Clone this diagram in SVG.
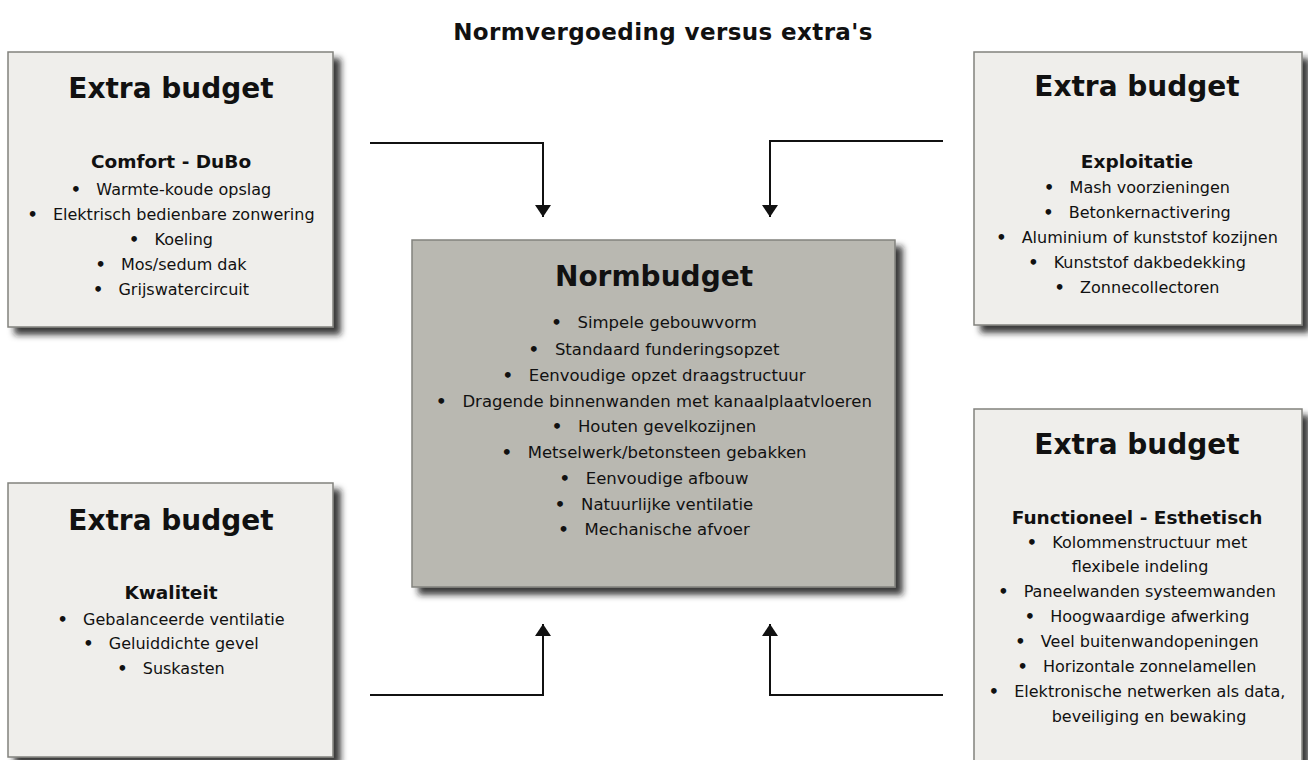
<svg xmlns="http://www.w3.org/2000/svg" width="1308" height="760" viewBox="0 0 1308 760">
<style>
  text { font-family: "DejaVu Sans", Verdana, sans-serif; fill: #111; text-anchor: middle; }
  .title { font-size: 23px; font-weight: bold; letter-spacing: 0.4px; }
  .head { font-size: 28px; font-weight: bold; }
  .sub { font-size: 18.5px; font-weight: bold; }
  .item { font-size: 16px; }
  .citem { font-size: 16.5px; }
  .b { font-weight: bold; }
  .side { fill: #EFEEEB; stroke: #82827e; stroke-width: 1.5; }
  .center { fill: #B9B8B1; stroke: #82827e; stroke-width: 1.5; }
  .conn { fill: none; stroke: #111; stroke-width: 2; }
</style>
<defs>
  <filter id="shadow" x="-10%" y="-10%" width="130%" height="130%">
    <feGaussianBlur in="SourceAlpha" stdDeviation="3"/>
    <feOffset dx="7" dy="7" result="b"/>
    <feFlood flood-color="#1a1a1a" flood-opacity="0.85"/>
    <feComposite in2="b" operator="in"/>
    <feMerge><feMergeNode/><feMergeNode in="SourceGraphic"/></feMerge>
  </filter>
  <marker id="arrow" viewBox="0 0 12 16" refX="12" refY="8" markerWidth="6" markerHeight="8" markerUnits="strokeWidth" orient="auto">
    <path d="M0,0 L12,8 L0,16 z" fill="#111"/>
  </marker>
</defs>
<rect width="1308" height="760" fill="#ffffff"/>
<text class="title" x="663" y="40">Normvergoeding versus extra's</text>

<g id="connectors">
  <path class="conn" d="M370,143 H543 V217" marker-end="url(#arrow)"/>
  <path class="conn" d="M943,141 H770 V217" marker-end="url(#arrow)"/>
  <path class="conn" d="M370,695 H543 V624" marker-end="url(#arrow)"/>
  <path class="conn" d="M943,695 H770 V624" marker-end="url(#arrow)"/>
</g>

<g id="extra-comfort">
  <rect class="side" x="8" y="52" width="325" height="275" filter="url(#shadow)"/>
  <text class="head" x="171" y="98">Extra budget</text>
  <text class="sub" x="171" y="168">Comfort - DuBo</text>
  <text class="item" x="171" y="195" xml:space="preserve"><tspan class="b">•</tspan>   Warmte-koude opslag</text>
  <text class="item" x="171" y="220" xml:space="preserve"><tspan class="b">•</tspan>   Elektrisch bedienbare zonwering</text>
  <text class="item" x="171" y="245" xml:space="preserve"><tspan class="b">•</tspan>   Koeling</text>
  <text class="item" x="171" y="270" xml:space="preserve"><tspan class="b">•</tspan>   Mos/sedum dak</text>
  <text class="item" x="171" y="295" xml:space="preserve"><tspan class="b">•</tspan>   Grijswatercircuit</text>
</g>

<g id="extra-exploitatie">
  <rect class="side" x="974" y="52" width="328" height="273" filter="url(#shadow)"/>
  <text class="head" x="1137" y="96">Extra budget</text>
  <text class="sub" x="1137" y="168">Exploitatie</text>
  <text class="item" x="1137" y="193" xml:space="preserve"><tspan class="b">•</tspan>   Mash voorzieningen</text>
  <text class="item" x="1137" y="218" xml:space="preserve"><tspan class="b">•</tspan>   Betonkernactivering</text>
  <text class="item" x="1137" y="243" xml:space="preserve"><tspan class="b">•</tspan>   Aluminium of kunststof kozijnen</text>
  <text class="item" x="1137" y="268" xml:space="preserve"><tspan class="b">•</tspan>   Kunststof dakbedekking</text>
  <text class="item" x="1137" y="293" xml:space="preserve"><tspan class="b">•</tspan>   Zonnecollectoren</text>
</g>

<g id="normbudget">
  <rect class="center" x="412" y="240" width="483" height="347" filter="url(#shadow)"/>
  <text class="head" x="654" y="286">Normbudget</text>
  <text class="citem" x="654" y="328" xml:space="preserve"><tspan class="b">•</tspan>   Simpele gebouwvorm</text>
  <text class="citem" x="654" y="355" xml:space="preserve"><tspan class="b">•</tspan>   Standaard funderingsopzet</text>
  <text class="citem" x="654" y="381" xml:space="preserve"><tspan class="b">•</tspan>   Eenvoudige opzet draagstructuur</text>
  <text class="citem" x="654" y="407" xml:space="preserve"><tspan class="b">•</tspan>   Dragende binnenwanden met kanaalplaatvloeren</text>
  <text class="citem" x="654" y="432" xml:space="preserve"><tspan class="b">•</tspan>   Houten gevelkozijnen</text>
  <text class="citem" x="654" y="458" xml:space="preserve"><tspan class="b">•</tspan>   Metselwerk/betonsteen gebakken</text>
  <text class="citem" x="654" y="484" xml:space="preserve"><tspan class="b">•</tspan>   Eenvoudige afbouw</text>
  <text class="citem" x="654" y="510" xml:space="preserve"><tspan class="b">•</tspan>   Natuurlijke ventilatie</text>
  <text class="citem" x="654" y="535" xml:space="preserve"><tspan class="b">•</tspan>   Mechanische afvoer</text>
</g>

<g id="extra-kwaliteit">
  <rect class="side" x="8" y="483" width="325" height="274" filter="url(#shadow)"/>
  <text class="head" x="171" y="530">Extra budget</text>
  <text class="sub" x="171" y="599">Kwaliteit</text>
  <text class="item" x="171" y="625" xml:space="preserve"><tspan class="b">•</tspan>   Gebalanceerde ventilatie</text>
  <text class="item" x="171" y="649" xml:space="preserve"><tspan class="b">•</tspan>   Geluiddichte gevel</text>
  <text class="item" x="171" y="674" xml:space="preserve"><tspan class="b">•</tspan>   Suskasten</text>
</g>

<g id="extra-functioneel">
  <rect class="side" x="974" y="409" width="328" height="365" filter="url(#shadow)"/>
  <text class="head" x="1137" y="454">Extra budget</text>
  <text class="sub" x="1137" y="524">Functioneel - Esthetisch</text>
  <text class="item" x="1137" y="548" xml:space="preserve"><tspan class="b">•</tspan>   Kolommenstructuur met</text>
  <text class="item" x="1140" y="572">flexibele indeling</text>
  <text class="item" x="1137" y="597" xml:space="preserve"><tspan class="b">•</tspan>   Paneelwanden systeemwanden</text>
  <text class="item" x="1137" y="622" xml:space="preserve"><tspan class="b">•</tspan>   Hoogwaardige afwerking</text>
  <text class="item" x="1137" y="647" xml:space="preserve"><tspan class="b">•</tspan>   Veel buitenwandopeningen</text>
  <text class="item" x="1137" y="672" xml:space="preserve"><tspan class="b">•</tspan>   Horizontale zonnelamellen</text>
  <text class="item" x="1137" y="697" xml:space="preserve"><tspan class="b">•</tspan>   Elektronische netwerken als data,</text>
  <text class="item" x="1149" y="722">beveiliging en bewaking</text>
</g>
</svg>
